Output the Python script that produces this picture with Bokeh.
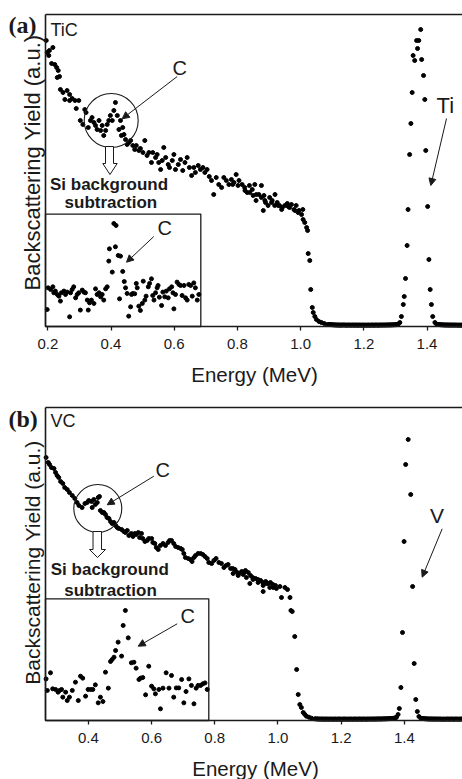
import math
from bokeh.plotting import figure
from bokeh.layouts import column
from bokeh.models import (Range1d, FixedTicker, LinearAxis, Label, Arrow, NormalHead,
                          PrintfTickFormatter)
from bokeh.embed import file_html
from bokeh.resources import INLINE

# ---------------- data: (a) TiC ----------------
tic_E = [0.195, 0.198, 0.203, 0.205, 0.212, 0.216, 0.222, 0.228, 0.230, 0.233, 0.237, 0.240, 0.248, 0.254,
         0.261, 0.269, 0.269, 0.277, 0.286, 0.290, 0.298, 0.303, 0.311, 0.317, 0.321, 0.328, 0.335, 0.340,
         0.346, 0.351, 0.356, 0.362, 0.367, 0.372, 0.377, 0.383, 0.388, 0.393, 0.398, 0.404, 0.409, 0.414,
         0.420, 0.425, 0.430, 0.433, 0.437, 0.441, 0.446, 0.451, 0.456, 0.462, 0.469, 0.475, 0.480, 0.488,
         0.493, 0.501, 0.507, 0.514, 0.520, 0.528, 0.532, 0.541, 0.546, 0.551, 0.557, 0.562, 0.567, 0.573,
         0.581, 0.585, 0.594, 0.599, 0.604, 0.613, 0.620, 0.627, 0.634, 0.641, 0.648, 0.655, 0.662, 0.667,
         0.676, 0.683, 0.691, 0.697, 0.704, 0.711, 0.718, 0.725, 0.733, 0.741, 0.750, 0.757, 0.765, 0.773,
         0.781, 0.785, 0.789, 0.796, 0.802, 0.805, 0.815, 0.823, 0.824, 0.831, 0.838, 0.839, 0.847, 0.850,
         0.855, 0.859, 0.860, 0.868, 0.876, 0.876, 0.882, 0.884, 0.887, 0.889, 0.897, 0.902, 0.908, 0.910,
         0.918, 0.919, 0.926, 0.929, 0.933, 0.940, 0.942, 0.950, 0.958, 0.961, 0.965, 0.971, 0.979, 0.982,
         0.986, 0.992, 0.995, 1.003, 1.007, 1.008, 1.013, 1.019, 1.022, 1.024, 1.029, 1.032, 1.037, 1.040,
         1.045, 1.050, 1.058, 1.066, 1.075, 1.085,
         1.309, 1.314, 1.319, 1.325, 1.328, 1.332, 1.337, 1.340, 1.345, 1.349, 1.353, 1.356, 1.361, 1.367,
         1.370, 1.374, 1.380, 1.383, 1.389, 1.393, 1.396, 1.402, 1.406, 1.410, 1.414, 1.418, 1.425, 1.430]
tic_Y = [286, 274, 271, 276, 263, 279, 262, 259, 249, 256, 250, 237, 234, 227,
         236, 232, 226, 228, 226, 218, 226, 206, 202, 217, 214, 199, 206, 209,
         204, 201, 197, 206, 196, 201, 191, 196, 202, 206, 211, 206, 216, 224,
         211, 197, 206, 191, 199, 192, 187, 182, 184, 186, 181, 177, 181, 176,
         178, 174, 186, 171, 174, 164, 174, 169, 172, 164, 157, 166, 179, 169,
         162, 159, 166, 172, 157, 162, 167, 156, 164, 169, 159, 151, 159, 154,
         161, 157, 159, 154, 157, 150, 146, 132, 149, 142, 139, 149, 146, 142,
         147, 142, 144, 152, 141, 146, 142, 139, 136, 134, 141, 134, 137, 131,
         142, 126, 132, 132, 141, 129, 116, 131, 126, 124, 121, 129, 124, 126,
         121, 132, 124, 121, 121, 117, 119, 121, 123, 120, 119, 122, 117, 116,
         121, 114, 116, 112, 117, 107, 104, 99, 96, 73, 66, 37, 19, 14,
         10, 7, 5, 4, 3, 2,
         2.4, 4, 10, 22, 30, 48, 81, 117, 172, 203, 234, 271, 266, 286,
         278, 286, 297, 267, 251, 227, 176, 120, 67, 37, 22, 10, 4, 2.4]
tic_base_E = [1.090, 1.093, 1.096, 1.099, 1.102, 1.105, 1.108, 1.111, 1.114, 1.117, 1.120, 1.123, 1.126,
              1.129, 1.132, 1.135, 1.138, 1.141, 1.144, 1.147, 1.150, 1.153, 1.156, 1.159, 1.162, 1.165,
              1.168, 1.171, 1.174, 1.177, 1.180, 1.183, 1.186, 1.189, 1.192, 1.195, 1.198, 1.201, 1.204,
              1.207, 1.210, 1.213, 1.216, 1.219, 1.222, 1.225, 1.228, 1.231, 1.234, 1.237, 1.240, 1.243,
              1.246, 1.249, 1.252, 1.255, 1.258, 1.261, 1.264, 1.267, 1.270, 1.273, 1.276, 1.279, 1.282,
              1.285, 1.288, 1.291, 1.294, 1.297, 1.300, 1.303, 1.306,
              1.435, 1.438, 1.441, 1.444, 1.447, 1.450, 1.453, 1.456, 1.459, 1.462, 1.465, 1.468, 1.471,
              1.474, 1.477, 1.480, 1.483, 1.486, 1.489, 1.492, 1.495, 1.498, 1.501, 1.504, 1.507, 1.510,
              1.513]
tic_base_Y = [2.0, 1.9, 1.8, 1.8, 1.7, 1.6, 1.6, 1.5, 1.6, 1.4, 1.5, 1.5, 1.3, 1.5, 1.4, 1.6, 1.4, 1.5,
              1.3, 1.5, 1.4, 1.4, 1.5, 1.3, 1.4, 1.5, 1.4, 1.3, 1.5, 1.4, 1.4, 1.3, 1.5, 1.4, 1.3, 1.4,
              1.5, 1.3, 1.4, 1.4, 1.3, 1.5, 1.4, 1.3, 1.4, 1.4, 1.5, 1.3, 1.4, 1.4, 1.5, 1.4, 1.3, 1.5,
              1.4, 1.5, 1.4, 1.5, 1.5, 1.4, 1.6, 1.5, 1.5, 1.6, 1.6, 1.5, 1.7, 1.6, 1.7, 1.8, 1.8, 1.9, 2.1,
              2.0, 1.9, 1.8, 1.7, 1.7, 1.6, 1.6, 1.5, 1.5, 1.6, 1.4, 1.5, 1.5, 1.4, 1.5, 1.4, 1.5, 1.4,
              1.4, 1.5, 1.4, 1.3, 1.4, 1.4, 1.3, 1.4, 1.4]

# inset (a): after Si background subtraction (relative units, 0-100 = inset box)
tic_in_E = [0.198, 0.201, 0.209, 0.216, 0.219, 0.224, 0.230, 0.235, 0.240, 0.243, 0.251, 0.256, 0.261,
            0.269, 0.272, 0.277, 0.282, 0.288, 0.293, 0.298, 0.303, 0.309, 0.314, 0.319, 0.325, 0.328,
            0.332, 0.338, 0.346, 0.351, 0.356, 0.362, 0.367, 0.372, 0.377, 0.383, 0.388, 0.393, 0.395,
            0.404, 0.409, 0.416, 0.414, 0.423, 0.430, 0.427, 0.437, 0.442, 0.446, 0.451, 0.456, 0.462,
            0.465, 0.469, 0.475, 0.480, 0.483, 0.488, 0.493, 0.499, 0.502, 0.507, 0.511, 0.518, 0.522,
            0.528, 0.532, 0.536, 0.541, 0.546, 0.549, 0.553, 0.560, 0.564, 0.570, 0.575, 0.581, 0.585,
            0.592, 0.596, 0.599, 0.604, 0.609, 0.615, 0.620, 0.625, 0.631, 0.636, 0.641, 0.646, 0.652,
            0.657, 0.662, 0.667, 0.673, 0.678]
tic_in_Y = [15.1, 34.4, 32.9, 35.3, 30.0, 31.5, 28.5, 27.0, 22.6, 30.0, 31.5, 28.5, 30.6,
            8.6, 30.0, 32.9, 35.3, 25.5, 28.5, 30.0, 14.6, 32.4, 30.6, 30.0, 23.5, 14.6,
            21.1, 23.5, 20.5, 33.5, 28.5, 30.0, 26.4, 28.5, 23.5, 33.5, 35.3, 58.2, 69.1,
            48.4, 91.6, 89.9, 70.9, 63.2, 62.6, 24.6, 49.0, 40.0, 34.4, 29.4, 9.2, 17.5,
            28.5, 29.4, 29.1, 38.3, 34.4, 18.1, 14.3, 20.5, 40.3, 23.5, 27.0, 35.3, 38.3,
            42.4, 27.6, 23.5, 30.0, 34.4, 36.5, 26.1, 18.7, 30.6, 26.4, 31.5, 25.5, 33.5,
            35.3, 30.0, 15.7, 28.5, 39.5, 37.4, 36.5, 27.6, 36.5, 25.5, 23.5, 37.4, 36.5,
            27.0, 38.8, 34.4, 23.5, 28.5]

# ---------------- data: (b) VC ----------------
vc_E = [0.266, 0.273, 0.277, 0.283, 0.291, 0.296, 0.301, 0.306, 0.312, 0.319, 0.325, 0.333, 0.340, 0.349,
        0.357, 0.364, 0.370, 0.380, 0.389, 0.396, 0.401, 0.410, 0.412, 0.417, 0.422, 0.428, 0.431, 0.435,
        0.438, 0.444, 0.449, 0.454, 0.459, 0.465, 0.470, 0.475, 0.481, 0.486, 0.491, 0.496, 0.505, 0.512,
        0.517, 0.523, 0.528, 0.536, 0.541, 0.547, 0.551, 0.558, 0.562, 0.568, 0.572, 0.579, 0.586, 0.591,
        0.600, 0.604, 0.610, 0.615, 0.621, 0.628, 0.636, 0.644, 0.652, 0.657, 0.663, 0.670, 0.676, 0.684,
        0.692, 0.697, 0.702, 0.707, 0.716, 0.723, 0.728, 0.734, 0.739, 0.747, 0.755, 0.762, 0.769, 0.776,
        0.781, 0.790, 0.797, 0.804, 0.813, 0.821, 0.829, 0.836, 0.842, 0.850, 0.857, 0.858, 0.864, 0.871,
        0.874, 0.876, 0.885, 0.890, 0.892, 0.897, 0.900, 0.906, 0.911, 0.913, 0.920, 0.921, 0.929, 0.937,
        0.937, 0.945, 0.952, 0.953, 0.953, 0.961, 0.964, 0.969, 0.974, 0.976, 0.984, 0.985, 0.992, 0.995,
        1.006, 1.011, 1.022, 1.030, 1.038, 1.041, 1.045, 1.053, 1.059, 1.064, 1.069, 1.074, 1.080, 1.085,
        1.090, 1.098, 1.106, 1.117,
        1.375, 1.380, 1.384, 1.389, 1.394, 1.399, 1.404, 1.412, 1.420, 1.426, 1.431, 1.436, 1.441, 1.446,
        1.452]
vc_Y = [263, 258, 256, 253, 252, 248, 245, 243, 239, 237, 233, 231, 228, 225,
        222, 218, 215, 213, 217, 218, 220, 219, 213, 221, 216, 218, 223, 224,
        210, 208, 208, 206, 203, 202, 199, 197, 198, 195, 193, 192, 191, 189,
        188, 190, 185, 187, 184, 187, 186, 188, 183, 187, 182, 179, 180, 182,
        182, 178, 177, 173, 171, 175, 177, 175, 178, 180, 180, 177, 174, 173,
        172, 171, 167, 163, 162, 161, 159, 163, 165, 167, 167, 166, 164, 162,
        158, 157, 160, 162, 158, 157, 153, 155, 156, 152, 152, 147, 151, 148,
        145, 147, 149, 146, 148, 150, 143, 148, 137, 145, 143, 141, 142, 141,
        138, 140, 138, 135, 129, 139, 137, 137, 133, 138, 136, 133, 135, 132,
        134, 123, 133, 131, 123, 110, 109, 84, 51, 26, 16, 13, 8, 6,
        4.3, 3.3, 2.3, 1.7,
        3.3, 6, 12, 33, 88, 179, 256, 281, 226, 134, 57, 21, 9, 4,
        2.3]
vc_base_E = [1.120, 1.123, 1.126, 1.129, 1.132, 1.135, 1.138, 1.141, 1.144, 1.147, 1.150, 1.153, 1.156,
             1.159, 1.162, 1.165, 1.168, 1.171, 1.174, 1.177, 1.180, 1.183, 1.186, 1.189, 1.192, 1.195,
             1.198, 1.201, 1.204, 1.207, 1.210, 1.213, 1.216, 1.219, 1.222, 1.225, 1.228, 1.231, 1.234,
             1.237, 1.240, 1.243, 1.246, 1.249, 1.252, 1.255, 1.258, 1.261, 1.264, 1.267, 1.270, 1.273,
             1.276, 1.279, 1.282, 1.285, 1.288, 1.291, 1.294, 1.297, 1.300, 1.303, 1.306, 1.309, 1.312,
             1.315, 1.318, 1.321, 1.324, 1.327, 1.330, 1.333, 1.336, 1.339, 1.342, 1.345, 1.348, 1.351,
             1.354, 1.357, 1.360, 1.363, 1.366, 1.369, 1.372,
             1.456, 1.459, 1.462, 1.465, 1.468, 1.471, 1.474, 1.477, 1.480, 1.483, 1.486, 1.489, 1.492,
             1.495, 1.498, 1.501, 1.504, 1.507, 1.510, 1.513, 1.516, 1.519, 1.522, 1.525, 1.528, 1.531,
             1.534, 1.537, 1.540, 1.543, 1.546, 1.549, 1.552, 1.555, 1.558, 1.561, 1.564, 1.567, 1.570,
             1.573, 1.576, 1.579, 1.582, 1.585]
vc_base_Y = [1.6, 1.6, 1.5, 1.5, 1.4, 1.5, 1.4, 1.4, 1.5, 1.3, 1.4, 1.5, 1.4, 1.3, 1.4, 1.5, 1.3, 1.4,
             1.4, 1.3, 1.5, 1.4, 1.3, 1.4, 1.4, 1.5, 1.3, 1.4, 1.3, 1.4, 1.5, 1.4, 1.3, 1.4, 1.4, 1.3,
             1.5, 1.4, 1.4, 1.3, 1.4, 1.5, 1.4, 1.3, 1.4, 1.4, 1.5, 1.4, 1.3, 1.4, 1.5, 1.4, 1.4, 1.3,
             1.5, 1.4, 1.4, 1.5, 1.4, 1.5, 1.4, 1.5, 1.5, 1.4, 1.5, 1.6, 1.5, 1.5, 1.6, 1.5, 1.6, 1.6,
             1.7, 1.6, 1.7, 1.7, 1.8, 1.8, 1.9, 1.9, 2.0, 2.1, 2.2, 2.4, 2.6,
             2.0, 1.9, 1.8, 1.7, 1.7, 1.6, 1.6, 1.5, 1.5, 1.6, 1.4, 1.5, 1.5, 1.4, 1.5, 1.4, 1.5, 1.4,
             1.4, 1.5, 1.4, 1.3, 1.4, 1.4, 1.3, 1.4, 1.4, 1.5, 1.4, 1.3, 1.4, 1.5, 1.4, 1.3, 1.4, 1.4,
             1.5, 1.4, 1.3, 1.4, 1.4, 1.5, 1.4, 1.4]

vc_in_E = [0.266, 0.270, 0.280, 0.287, 0.296, 0.304, 0.309, 0.315, 0.319, 0.328, 0.333, 0.340, 0.349,
           0.359, 0.368, 0.375, 0.382, 0.391, 0.399, 0.407, 0.414, 0.422, 0.431, 0.438, 0.446, 0.454,
           0.463, 0.470, 0.475, 0.481, 0.486, 0.494, 0.505, 0.510, 0.517, 0.526, 0.536, 0.544, 0.551,
           0.560, 0.565, 0.572, 0.581, 0.591, 0.600, 0.607, 0.612, 0.623, 0.628, 0.636, 0.646, 0.655,
           0.663, 0.670, 0.678, 0.686, 0.695, 0.702, 0.709, 0.718, 0.726, 0.734, 0.741, 0.747, 0.755,
           0.762, 0.769, 0.776]
vc_in_Y = [34.2, 24.7, 39.2, 26.0, 25.5, 23.3, 24.7, 25.5, 19.2, 23.3, 16.4, 19.2, 24.7,
           31.5, 16.4, 36.4, 34.8, 20.0, 25.5, 25.5, 25.5, 29.3, 14.5, 19.2, 15.6, 39.7,
           26.6, 48.5, 50.1, 52.0, 57.5, 64.4, 52.9, 78.1, 90.4, 67.9, 47.4, 47.9, 43.0,
           33.7, 34.8, 35.3, 21.1, 44.6, 28.2, 26.0, 21.9, 25.5, 9.6, 26.6, 39.2, 26.6,
           37.0, 19.2, 26.8, 26.8, 33.7, 14.5, 23.8, 34.2, 28.8, 13.7, 26.6, 28.8, 28.8,
           30.1, 30.9, 25.5]

ticks_a = [0.2, 0.4, 0.6, 0.8, 1.0, 1.2, 1.4]
ticks_b = [0.4, 0.6, 0.8, 1.0, 1.2, 1.4]
X_TITLE = "Energy (MeV)"
Y_TITLE = "Backscattering Yield (a.u.)"

SANS = "Liberation Sans"
SERIF = "Liberation Serif"
INK = "#1a1a1a"


def make_fig(height, view_x, axis_x, x_end, y_top, view_y0, view_y1, inset_scale, ticks):
    """The frame covers the whole canvas; the axes are pinned (fixed_location) at the
    spectrum's own corner so that panel letters and titles can sit around them."""
    p = figure(width=462, height=height, x_range=Range1d(view_x, x_end),
               y_range=Range1d(view_y0, view_y1),
               output_backend="svg", toolbar_location=None,
               min_border_left=0, min_border_right=0, min_border_top=0, min_border_bottom=0)
    p.extra_y_ranges = {"inset": Range1d(view_y0 / inset_scale, view_y1 / inset_scale)}
    p.outline_line_color = None
    p.xgrid.visible = False
    p.ygrid.visible = False
    p.background_fill_color = "white"
    p.border_fill_color = "white"
    xa = p.xaxis[0]
    xa.fixed_location = 0
    xa.bounds = (axis_x, x_end)
    xa.ticker = FixedTicker(ticks=ticks)
    xa.formatter = PrintfTickFormatter(format="%.1f")
    xa.axis_line_width = 1.6
    xa.axis_line_color = INK
    xa.major_tick_out = 4
    xa.major_tick_in = 0
    xa.major_tick_line_width = 1.3
    xa.major_tick_line_color = INK
    xa.minor_tick_line_color = None
    xa.major_label_text_font = SANS
    xa.major_label_text_font_size = "15px"
    xa.major_label_text_color = INK
    xa.major_label_standoff = 8
    ya = p.yaxis[0]
    ya.fixed_location = axis_x
    ya.bounds = (0, y_top)
    ya.ticker = FixedTicker(ticks=[])
    ya.axis_line_width = 1.6
    ya.axis_line_color = INK
    ya.major_tick_out = 0
    ya.major_tick_in = 0
    ya.minor_tick_line_color = None
    ya.major_label_standoff = 0
    top = LinearAxis(ticker=FixedTicker(ticks=[]), axis_line_width=1.6, axis_line_color=INK,
                     major_tick_out=0, major_tick_in=0, minor_tick_line_color=None,
                     major_label_standoff=0, fixed_location=y_top, bounds=(axis_x, x_end))
    p.add_layout(top, "above")
    return p


def label(p, x, y, text, size, font=SANS, style="normal", align="left", baseline="top", angle=0.0):
    p.add_layout(Label(x=x, y=y, text=text, text_font=font, text_font_size=size,
                       text_font_style=style, text_align=align, text_baseline=baseline,
                       text_color=INK, angle=angle))


def arrow(p, x0, y0, x1, y1):
    p.add_layout(Arrow(x_start=x0, y_start=y0, x_end=x1, y_end=y1, line_width=1, line_color=INK,
                       end=NormalHead(size=7, fill_color=INK, line_color=INK, line_width=1)))


def block_arrow(p, xl, xr, hl, hr, tip_x, y_top, y_base, y_tip):
    p.patch([xl, xr, xr, hr, tip_x, hl, xl, xl], [y_top, y_top, y_base, y_base, y_tip, y_base, y_base, y_top],
            fill_color="white", line_color=INK, line_width=1)


DOT = dict(marker="circle", size=4, color="black")

# ---------------- panel (a) ----------------
pa = make_fig(398, 0.0503, 0.1927, 1.5123, 312, -72, 326, 1.124, ticks_a)
pa.scatter(tic_E, tic_Y, **DOT)
pa.scatter(tic_base_E, tic_base_Y, **DOT)
pa.quad(left=[0.1927], right=[0.6842], bottom=[0], top=[100], y_range_name="inset",
        fill_color=None, line_color=INK, line_width=1.3)
pa.scatter(tic_in_E, tic_in_Y, y_range_name="inset", **DOT)
pa.scatter([0.4006], [206], marker="circle", size=54, fill_color=None, line_color=INK, line_width=1.1)
block_arrow(pa, 0.3826, 0.4079, 0.3741, 0.4196, 0.3968, 180, 163, 152)
label(pa, 0.0756, 315, "(a)", "24px", font=SERIF, style="bold")
label(pa, 0.2085, 307, "TiC", "18px")
label(pa, 0.5946, 270, "C", "20px")
arrow(pa, 0.6095, 250, 0.4354, 207.7)
label(pa, 0.3937, 152, "Si background", "17px", style="bold", align="center")
label(pa, 0.3996, 134, "subtraction", "17px", style="bold", align="center")
label(pa, 0.5472, 109.5, "C", "20px")
arrow(pa, 0.5354, 90, 0.4491, 64.3)
label(pa, 1.4301, 234, "Ti", "22px")
arrow(pa, 1.4617, 208, 1.4120, 141)
label(pa, 0.8541, -36, X_TITLE, "20.5px", align="center")
label(pa, 0.1506, 164, Y_TITLE, "22px", align="center", baseline="alphabetic", angle=math.pi / 2)

# ---------------- panel (b) ----------------
pb = make_fig(381, 0.1218, 0.2642, 1.5839, 313, -59, 322, 1.217, ticks_b)
pb.scatter(vc_E, vc_Y, **DOT)
pb.scatter(vc_base_E, vc_base_Y, **DOT)
pb.quad(left=[0.2642], right=[0.781], bottom=[0], top=[100], y_range_name="inset",
        fill_color=None, line_color=INK, line_width=1.3)
pb.scatter(vc_in_E, vc_in_Y, y_range_name="inset", **DOT)
pb.scatter([0.4297], [212], marker="circle", size=48, fill_color=None, line_color=INK, line_width=1.1)
block_arrow(pb, 0.4146, 0.4415, 0.4035, 0.4541, 0.4288, 189, 171, 163)
label(pb, 0.1472, 315, "(b)", "24px", font=SERIF, style="bold")
label(pb, 0.2801, 310, "VC", "18px")
label(pb, 0.6123, 262, "C", "20px")
arrow(pb, 0.6070, 244.3, 0.4595, 215.7)
label(pb, 0.4677, 161, "Si background", "17px", style="bold", align="center")
label(pb, 0.4699, 140, "subtraction", "17px", style="bold", align="center")
label(pb, 0.6915, 116, "C", "20px")
arrow(pb, 0.6810, 96.7, 0.5576, 74.3)
label(pb, 1.4809, 217, "V", "21px")
arrow(pb, 1.5196, 191.7, 1.4563, 143.3)
label(pb, 0.9288, -36, X_TITLE, "20.5px", align="center")
label(pb, 0.2222, 158, Y_TITLE, "21px", align="center", baseline="alphabetic", angle=math.pi / 2)

layout = column(pa, pb, spacing=0)
open("out.html", "w").write(file_html(layout, INLINE))
